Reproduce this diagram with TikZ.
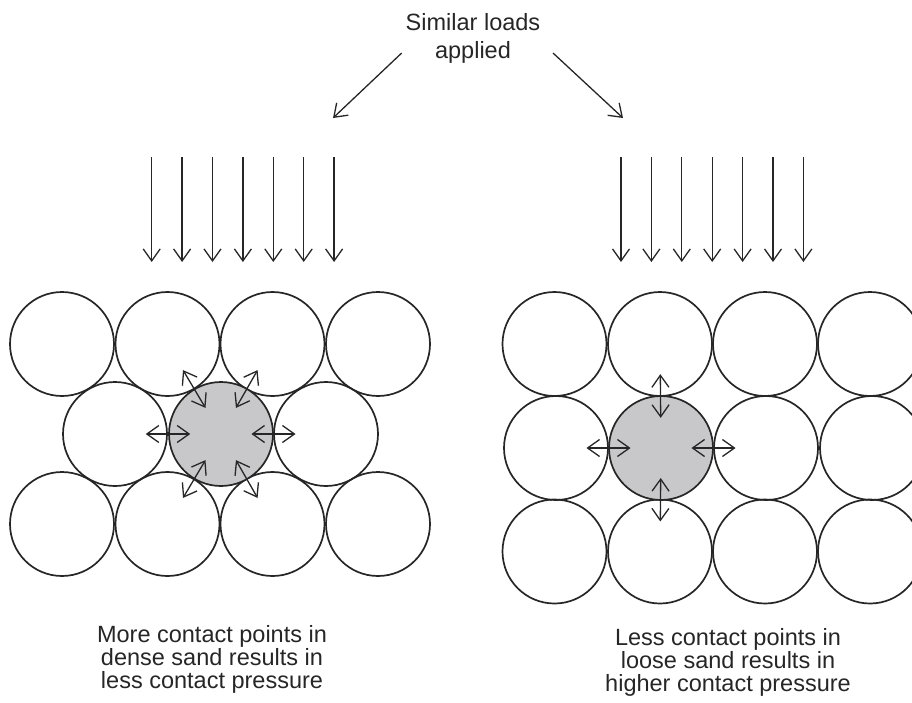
\documentclass[tikz,border=0pt]{standalone}
\usepackage{fontspec}
\setmainfont{Liberation Sans}
\usepackage{xcolor}
\usepackage{tikz}
\usetikzlibrary{arrows.meta}
\usetikzlibrary{calc}
\definecolor{grainfill}{RGB}{200,200,202}
\definecolor{inkgray}{RGB}{38,38,38}
\tikzset{
    grain/.style={circle, draw=inkgray, line width=1.7pt, minimum size=104pt, inner sep=0pt},
    loaded grain/.style={grain, fill=grainfill},
    load arrow/.style={color=inkgray, line width=1.3pt, -{Straight Barb[length=12pt,width=17pt]}},
    contact arrow/.style={color=inkgray, line width=1.3pt, {Straight Barb[length=12pt,width=17pt]}-{Straight Barb[length=12pt,width=17pt]}},
    note/.style={align=center, text=inkgray, inner sep=0pt, font=\fontsize{23.5}{23}\selectfont}
}

\begin{document}
\begin{tikzpicture}[x=1pt, y=-1pt]
    \useasboundingbox (0,0) rectangle (912,702);
    \clip (0,0) rectangle (912,702);
    % heading and its two pointers
    \node[note, font=\fontsize{23.5}{28}\selectfont] (loads) at (473,38) {Similar loads\\applied};
    \coordinate (L0) at (401.7,53);
    \coordinate (L1) at (333,118);
    \coordinate (R0) at (553,53);
    \coordinate (R1) at (623,118);
    \draw[load arrow] (L0) -- (L1);
    \draw[load arrow] (R0) -- (R1);
    % vertical loads
    \foreach \k in {0,...,6}{
        \coordinate (dtop\k) at ({151.7+30.4*\k},157);
        \coordinate (dbot\k) at ({151.7+30.4*\k},262);
        \coordinate (ltop\k) at ({621+30.4*\k},157);
        \coordinate (lbot\k) at ({621+30.4*\k},262);
        \draw[load arrow] (dtop\k) -- (dbot\k);
        \draw[load arrow] (ltop\k) -- (lbot\k);
    }
    % dense sand
    \foreach \i/\x in {1/62,2/167.5,3/272.5,4/378}{
        \node[grain] (dA\i) at (\x,344) {};
        \node[grain] (dC\i) at (\x,524) {};
    }
    \node[grain] (dB1) at (115,434) {};
    \node[grain] (dB3) at (326,434) {};
    \node[loaded grain] (dB2) at (221,434) {};
    \foreach \n in {dA2,dA3,dB1,dB3,dC2,dC3}
        \draw[contact arrow] ($(dB2)!0.29!(\n)$) -- ($(dB2)!0.71!(\n)$);
    % loose sand
    \foreach \i/\x in {1/554.5,2/660,3/765,4/870}{
        \node[grain] (lA\i) at (\x,344) {};
        \node[grain] (lC\i) at (\x,551.5) {};
    }
    \foreach \i/\x in {1/556,3/766,4/872}
        \node[grain] (lB\i) at (\x,448) {};
    \node[loaded grain] (lB2) at (661,448) {};
    \foreach \n in {lA2,lB1,lB3,lC2}
        \draw[contact arrow] ($(lB2)!0.29!(\n)$) -- ($(lB2)!0.71!(\n)$);
    % captions
    \node[note] (dense) at (212,659) {More contact points in\\dense sand results in\\less contact pressure};
    \node[note] (loose) at (728,662) {Less contact points in\\loose sand results in\\higher contact pressure};
\end{tikzpicture}
\end{document}
